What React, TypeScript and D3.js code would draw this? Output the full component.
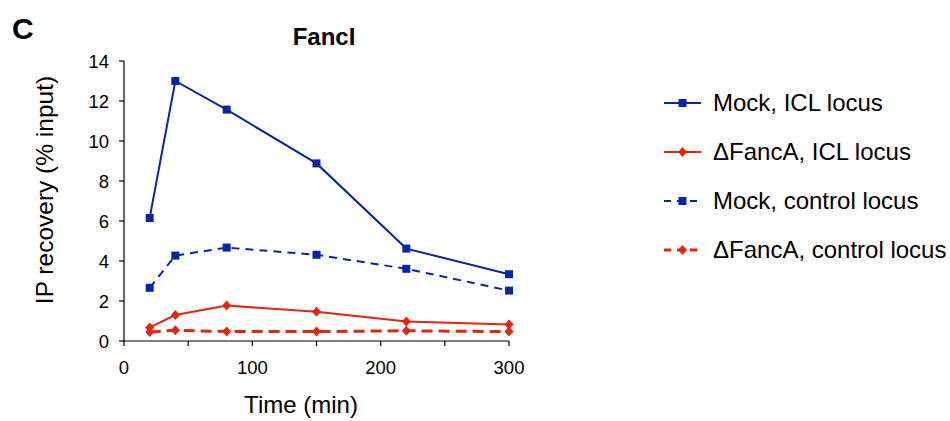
import React from "react";
import * as d3 from "d3";

const times = [20, 40, 80, 150, 220, 300];
const mockICL = [6.15, 13.0, 11.57, 8.88, 4.62, 3.34];
const fancaICL = [0.68, 1.3, 1.77, 1.46, 0.97, 0.82];
const mockCtrl = [2.66, 4.27, 4.67, 4.31, 3.61, 2.52];
const fancaCtrl = [0.45, 0.54, 0.47, 0.47, 0.51, 0.47];
const seriesNames = ["Mock, ICL locus", "ΔFancA, ICL locus", "Mock, control locus", "ΔFancA, control locus"];
const xTicks = [0, 50, 100, 150, 200, 250, 300];
const xLabels = [0, 100, 200, 300];
const yTicks = [0, 2, 4, 6, 8, 10, 12, 14];

const BLUE = "#0a24a6";
const RED = "#e4260f";
const FONT = "Liberation Sans, Arial, sans-serif";

export default function App() {
  const x = d3.scaleLinear().domain([0, 300]).range([124, 509]);
  const y = d3.scaleLinear().domain([0, 14]).range([341, 61]);
  const line = d3.line<[number, number]>().x((d) => x(d[0])).y((d) => y(d[1]));

  const series = [
    { name: seriesNames[0], vals: mockICL, color: BLUE, dash: "", marker: "sq", w: 2 },
    { name: seriesNames[1], vals: fancaICL, color: RED, dash: "", marker: "di", w: 2 },
    { name: seriesNames[2], vals: mockCtrl, color: BLUE, dash: "8,6", marker: "sq", w: 2 },
    { name: seriesNames[3], vals: fancaCtrl, color: RED, dash: "11,6", marker: "di", w: 3 },
  ];

  const marker = (kind: string, cx: number, cy: number, color: string, key: any) =>
    kind === "sq" ? (
      <rect key={key} x={cx - 4} y={cy - 4} width={8} height={8} fill={color} />
    ) : (
      <path key={key} d={`M${cx},${cy - 5}L${cx + 4.5},${cy}L${cx},${cy + 5}L${cx - 4.5},${cy}Z`} fill={color} />
    );

  return (
    <svg width={950} height={421} style={{ position: "absolute", left: 0, top: 0, background: "#fff" }} fontFamily={FONT}>
      <rect width={950} height={421} fill="#fff" />
      <text x={12} y={39} fontSize={30} fontWeight="bold">C</text>
      <text x={324} y={45} fontSize={24} fontWeight="bold" textAnchor="middle">FancI</text>

      {/* axes */}
      <line x1={x(0)} x2={x(0)} y1={y(14)} y2={y(0) + 0.5} stroke="#000" strokeWidth={1.2} />
      <line x1={x(0) - 0.5} x2={x(300)} y1={y(0)} y2={y(0)} stroke="#000" strokeWidth={1.2} />
      {yTicks.map((t) => (
        <g key={"y" + t}>
          <line x1={x(0) - 5} x2={x(0)} y1={y(t)} y2={y(t)} stroke="#000" strokeWidth={1.2} />
          <text x={109} y={y(t) + 6.5} fontSize={18.5} textAnchor="end">{t}</text>
        </g>
      ))}
      {xTicks.map((t) => (
        <line key={"x" + t} x1={x(t)} x2={x(t)} y1={y(0)} y2={y(0) + 5} stroke="#000" strokeWidth={1.2} />
      ))}
      {xLabels.map((t) => (
        <text key={"xl" + t} x={x(t)} y={374} fontSize={18.5} textAnchor="middle">{t}</text>
      ))}
      <text x={301} y={413} fontSize={24} textAnchor="middle">Time (min)</text>
      <text transform={`translate(53,190) rotate(-90)`} fontSize={24.5} textAnchor="middle">IP recovery (% input)</text>

      {/* series */}
      {series.map((s, i) => {
        const pts = times.map((t, j) => [t, s.vals[j]] as [number, number]);
        return (
          <g key={"s" + i}>
            <path d={line(pts) || ""} fill="none" stroke={s.color} strokeWidth={s.w} strokeDasharray={s.dash} />
            {pts.map((p, j) => marker(s.marker, x(p[0]), y(p[1]), s.color, j))}
          </g>
        );
      })}

      {/* legend */}
      {series.map((s, i) => {
        const ly = 103 + i * 49;
        return (
          <g key={"l" + i}>
            <line x1={664} x2={701} y1={ly} y2={ly} stroke={s.color} strokeWidth={s.w} strokeDasharray={s.dash ? "7,6" : ""} />
            {marker(s.marker, 682.5, ly, s.color, "m")}
            <text x={713} y={ly + 8} fontSize={24}>{s.name}</text>
          </g>
        );
      })}
    </svg>
  );
}
